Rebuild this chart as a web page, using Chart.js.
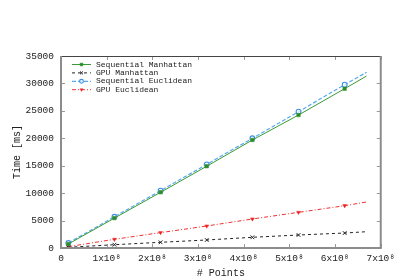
<!DOCTYPE html>
<html>
<head>
<meta charset="utf-8">
<script src="https://cdn.jsdelivr.net/npm/chart.js@4/dist/chart.umd.min.js"></script>
<style>
  body { margin: 0; background: #fff; }
  #wrap { width: 400px; height: 280px; position: relative; }
</style>
</head>
<body>
<div id="wrap"><canvas id="timeChart"></canvas></div>
<script>
// number of points (x values), markers sit on all but the last one
let points = [0.16e8, 1.17e8, 2.18e8, 3.19e8, 4.19e8, 5.2e8, 6.21e8, 6.69e8];

let seqManhattan = [730, 5450, 10150, 14900, 19690, 24240, 29040, 31350];
let gpuManhattan = [130, 600, 1040, 1460, 1950, 2370, 2730, 2970];
let seqEuclidean = [900, 5700, 10450, 15250, 20000, 24850, 29770, 32030];
let gpuEuclidean = [240, 1590, 2800, 4010, 5290, 6500, 7710, 8390];

let seriesNames = ['Sequential Manhattan', 'GPU Manhattan', 'Sequential Euclidean', 'GPU Euclidean'];
let yTicks = [0, 5000, 10000, 15000, 20000, 25000, 30000, 35000];
let xTicks = [0, 1e8, 2e8, 3e8, 4e8, 5e8, 6e8, 7e8];

let monoFont = "'Liberation Mono', 'DejaVu Sans Mono', monospace";

let toXY = function (ys) {
    return ys.map(function (y, i) { return {x: points[i], y: y}; });
};
let markerRadius = function (r) {
    return points.map(function (p, i) { return i === points.length - 1 ? 0 : r; });
};

let chartData = {
    datasets: [{
        label: seriesNames[0],
        data: toXY(seqManhattan),
        borderColor: '#3a9a35',
        backgroundColor: '#2f8a2a',
        borderWidth: 1,
        pointStyle: 'rect',
        pointRadius: markerRadius(2.5),
        pointBorderWidth: 0.5
    }, {
        label: seriesNames[1],
        data: toXY(gpuManhattan),
        borderColor: '#222',
        backgroundColor: '#222',
        borderWidth: 1,
        borderDash: [3, 3],
        pointStyle: 'crossRot',
        pointRadius: markerRadius(2.6),
        pointBorderWidth: 1
    }, {
        label: seriesNames[2],
        data: toXY(seqEuclidean),
        borderColor: '#5aa9f0',
        backgroundColor: '#ffffff',
        pointBackgroundColor: 'rgba(255,255,255,0.7)',
        borderWidth: 1.2,
        borderDash: [4, 2],
        pointStyle: 'circle',
        pointRadius: markerRadius(2.4),
        pointBorderColor: '#3d8ee8',
        pointBorderWidth: 1.1
    }, {
        label: seriesNames[3],
        data: toXY(gpuEuclidean),
        borderColor: '#f03030',
        backgroundColor: '#e82020',
        borderWidth: 1,
        borderDash: [4, 2, 1, 2],
        pointStyle: 'triangle',
        pointRotation: 180,
        pointRadius: markerRadius(2.2),
        pointBorderWidth: 0.5
    }]
};

// gnuplot-like frame, inward ticks and an inside legend
let framePlugin = {
    id: 'frame',
    afterDraw: function (chart) {
        let c = chart.ctx;
        let a = chart.chartArea;
        let xs = chart.scales.x;
        let ys = chart.scales.y;
        c.save();
        c.setLineDash([]);
        c.strokeStyle = '#999';
        c.lineWidth = 1;
        xTicks.forEach(function (v) {
            let px = Math.round(xs.getPixelForValue(v)) + 0.5;
            c.beginPath();
            c.moveTo(px, a.bottom); c.lineTo(px, a.bottom - 4);
            c.moveTo(px, a.top); c.lineTo(px, a.top + 4);
            c.stroke();
        });
        yTicks.forEach(function (v) {
            let py = Math.round(ys.getPixelForValue(v)) + 0.5;
            c.beginPath();
            c.moveTo(a.left, py); c.lineTo(a.left + 4, py);
            c.moveTo(a.right, py); c.lineTo(a.right - 4, py);
            c.stroke();
        });
        c.strokeStyle = '#444';
        c.lineWidth = 1;
        c.beginPath();
        c.moveTo(a.left, a.top + 0.5); c.lineTo(a.right, a.top + 0.5);
        c.stroke();
        c.strokeStyle = '#8c8c8c';
        c.lineWidth = 2;
        c.beginPath();
        c.moveTo(a.left, a.top); c.lineTo(a.left, a.bottom);
        c.lineTo(a.right, a.bottom); c.lineTo(a.right, a.top);
        c.stroke();

        // legend
        c.font = '8px ' + monoFont;
        c.textBaseline = 'middle';
        c.textAlign = 'left';
        chart.data.datasets.forEach(function (ds, i) {
            let y = a.top + 8.5 + i * 8.4;
            let x0 = a.left + 11;
            let x1 = a.left + 30;
            let mark = {
                pointStyle: ds.pointStyle,
                rotation: ds.pointRotation || 0,
                radius: ds.pointRadius[0] * 0.8,
                borderWidth: ds.pointBorderWidth
            };
            c.strokeStyle = ds.borderColor;
            c.lineWidth = ds.borderWidth;
            c.setLineDash(ds.borderDash || []);
            c.beginPath();
            c.moveTo(x0, y); c.lineTo(x1, y);
            c.stroke();
            c.setLineDash([]);
            c.fillStyle = ds.pointBackgroundColor || ds.backgroundColor;
            c.strokeStyle = ds.pointBorderColor || ds.borderColor;
            c.lineWidth = ds.pointBorderWidth;
            Chart.helpers.drawPoint(c, mark, (x0 + x1) / 2, y);
            c.fillStyle = '#222';
            c.fillText(ds.label, x1 + 5, y);
        });
        c.restore();
    }
};

window.timeChart = new Chart(document.getElementById('timeChart').getContext('2d'), {
    type: 'line',
    data: chartData,
    options: {
        responsive: true,
        maintainAspectRatio: false,
        animation: false,
        layout: {padding: {left: 0, right: 18, top: 56, bottom: 0}},
        plugins: {legend: {display: false}, tooltip: {enabled: false}},
        elements: {line: {tension: 0}},
        scales: {
            x: {
                type: 'linear',
                min: 0,
                max: 7e8,
                afterBuildTicks: function (s) { s.ticks = xTicks.map(function (v) { return {value: v}; }); },
                afterFit: function (s) { s.height = 32; },
                grid: {display: false, drawTicks: false},
                border: {display: false},
                ticks: {
                    padding: 5,
                    maxRotation: 0,
                    color: '#222',
                    font: {family: monoFont, size: 9.5},
                    callback: function (v) { return v === 0 ? '0' : (v / 1e8) + 'x10\u2078'; }
                },
                title: {display: true, text: '# Points', color: '#222', font: {family: monoFont, size: 10}, padding: {top: 0, bottom: 1}}
            },
            y: {
                min: 0,
                max: 35000,
                afterBuildTicks: function (s) { s.ticks = yTicks.map(function (v) { return {value: v}; }); },
                afterFit: function (s) { s.width = 61; },
                grid: {display: false, drawTicks: false},
                border: {display: false},
                ticks: {
                    padding: 7,
                    color: '#222',
                    font: {family: monoFont, size: 9.5},
                    callback: function (v) { return String(v); }
                },
                title: {display: true, text: 'Time [ms]', color: '#222', font: {family: monoFont, size: 10}, padding: {top: 11, bottom: 0}}
            }
        }
    },
    plugins: [framePlugin]
});
</script>
</body>
</html>
